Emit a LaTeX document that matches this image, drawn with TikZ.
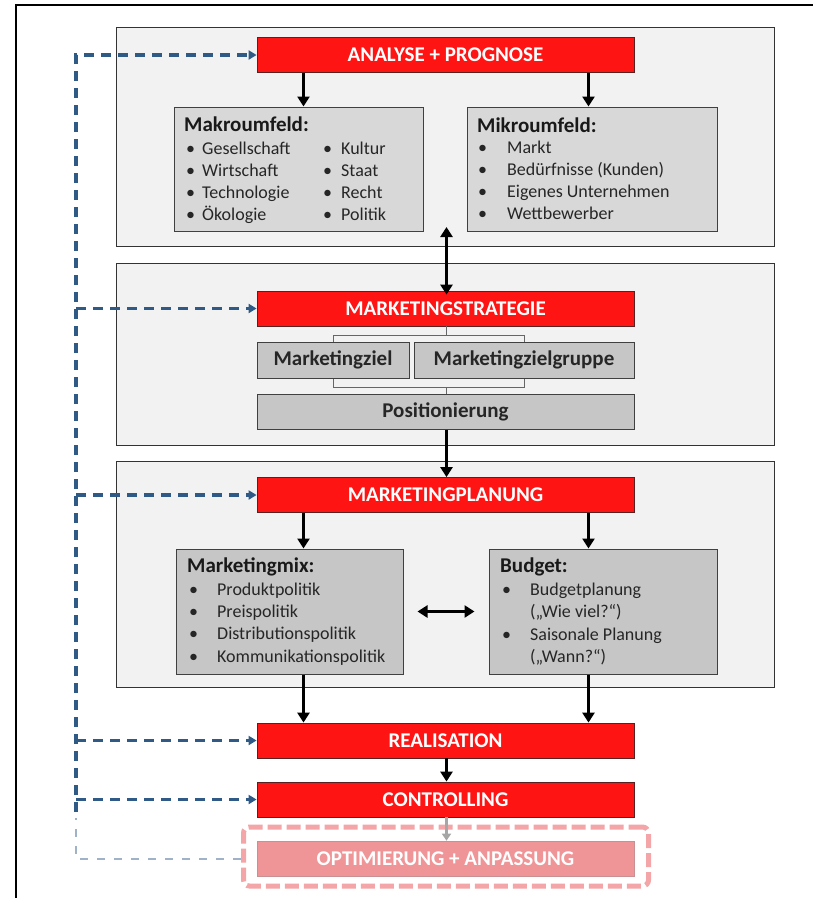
\documentclass[tikz,border=0pt]{standalone}
\usepackage{fontspec}
\setmainfont{Carlito}
\usetikzlibrary{arrows.meta}
\definecolor{panelfill}{HTML}{F2F2F2}
\definecolor{boxred}{HTML}{FF1414}
\definecolor{redline}{HTML}{5A1F1F}
\definecolor{greyA}{HTML}{D8D8D8}
\definecolor{greyB}{HTML}{C6C6C6}
\definecolor{fbblue}{HTML}{2F5A85}
\definecolor{fbfade}{HTML}{9FB2C8}
\definecolor{optfill}{HTML}{F09597}
\definecolor{optframe}{HTML}{F3A5A7}
\newcommand{\bitem}[1]{\makebox[#1][l]{•}}
\begin{document}
\begin{tikzpicture}[x=1pt,y=-1pt,
  panel/.style={draw=black!80, fill=panelfill, line width=1pt, inner sep=0pt},
  redbox/.style={draw=redline, fill=boxred, text=white, line width=0.8pt, inner sep=0pt,
    minimum width=377pt, minimum height=35pt, font=\fontsize{21}{24}\selectfont\bfseries},
  greybox/.style={draw=black!75, fill=greyA, line width=1pt, inner sep=0pt},
  subbox/.style={draw=black!75, fill=greyB, line width=1pt, inner sep=0pt, text=black!85,
    minimum height=36pt, font=\fontsize{21}{24}\selectfont\bfseries},
  head/.style={anchor=base west, inner sep=0pt, text=black!90, font=\fontsize{21}{24}\selectfont\bfseries},
  item/.style={anchor=base west, inner sep=0pt, text=black!85, font=\fontsize{18}{20}\selectfont},
  arr/.style={line width=3.2pt, -{Triangle[length=10pt,width=12pt]}},
  darr/.style={line width=3.2pt, {Triangle[length=10pt,width=12pt]}-{Triangle[length=10pt,width=12pt]}},
  fb/.style={draw=fbblue, line width=3.2pt, dash pattern=on 10pt off 7pt},
  fbarr/.style={fb, -{Triangle[length=8pt,width=9pt]}},
  fbf/.style={draw=fbfade, line width=2pt, dash pattern=on 8pt off 9pt},
  bracket/.style={draw=black!60, line width=1pt}
]
\useasboundingbox (0,0) rectangle (813,898);
% outer frame
\draw[line width=1.3pt] (16,898) -- (16,5) -- (813,5);

% column coordinates
\coordinate (colL) at (303.5,0);
\coordinate (colM) at (446.5,0);
\coordinate (colR) at (588.5,0);
\coordinate (fbx) at (76,0);

% panels
\node[panel, minimum width=658pt, minimum height=219pt] (panel1) at (445,136.5) {};
\node[panel, minimum width=658pt, minimum height=182pt] (panel2) at (445,354) {};
\node[panel, minimum width=658pt, minimum height=226pt] (panel3) at (445,574) {};

% red boxes
\node[redbox] (analyse) at (445.5,55) {ANALYSE + PROGNOSE};
\node[redbox] (strat) at (445.5,308.5) {MARKETINGSTRATEGIE};
\node[redbox] (plan) at (445.5,495) {MARKETINGPLANUNG};
\node[redbox] (real) at (445.5,740.5) {REALISATION};
\node[redbox] (contr) at (445.5,799.5) {CONTROLLING};

% optimierung (faded)
\node[draw=optframe, line width=5pt, dash pattern=on 14pt off 5pt, rounded corners=6pt,
  minimum width=405pt, minimum height=59pt, inner sep=0pt] (optfr) at (446,856.5) {};
\node[fill=optfill, draw=optframe!80!black!90, line width=0.6pt, minimum width=377pt, minimum height=35pt,
  inner sep=0pt, text=white, font=\fontsize{21}{24}\selectfont\bfseries] (optim) at (445.5,858.5) {OPTIMIERUNG + ANPASSUNG};

% Makro / Mikro
\node[greybox, minimum width=249pt, minimum height=124pt] (makro) at (298.5,169) {};
\node[greybox, minimum width=250pt, minimum height=124pt] (mikro) at (592,169) {};
\node[head] (makroH) at (184,131) {Makroumfeld:};
\foreach \t [count=\i] in {Gesellschaft, Wirtschaft, Technologie, Ökologie}
  \node[item] (mka\i) at (186,{132+22*\i}) {\bitem{16pt}\t};
\foreach \t [count=\i] in {Kultur, Staat, Recht, Politik}
  \node[item] (mkb\i) at (323,{132+22*\i}) {\bitem{18pt}\t};
\node[head] (mikroH) at (477,132) {Mikroumfeld:};
\foreach \t [count=\i] in {Markt, Bedürfnisse (Kunden), Eigenes Unternehmen, Wettbewerber}
  \node[item] (mi\i) at (478,{131+22*\i}) {\bitem{29pt}\t};

% strategy sub-boxes
\coordinate (brTL) at (333,335);
\coordinate (brBR) at (524,387);
\draw[bracket] (brTL) rectangle (brBR);
\draw[bracket] (strat.south -| colM) -- (colM |- brTL);
\node[subbox, minimum width=152pt] (ziel) at (333,360) {Marketingziel};
\node[subbox, minimum width=220pt] (zielg) at (524,360) {Marketingzielgruppe};
\node[subbox, minimum width=377pt, minimum height=35pt] (pos) at (445.5,411.5) {Positionierung};
\draw[bracket] (colM |- brBR) -- (pos.north -| colM);

% Marketingmix / Budget
\node[greybox, fill=greyB, minimum width=227pt, minimum height=125pt] (mix) at (289.5,611.5) {};
\node[greybox, fill=greyB, minimum width=228pt, minimum height=125pt] (budget) at (603,611.5) {};
\node[head] (mixH) at (187,572) {Marketingmix:};
\foreach \t [count=\i] in {Produktpolitik, Preispolitik, Distributionspolitik, Kommunikationspolitik}
  \node[item] (mx\i) at (189,{573+22.3*\i}) {\bitem{28pt}\t};
\node[head] (budH) at (500,572) {Budget:};
\node[item] (bu1) at (502,595) {\bitem{28pt}Budgetplanung};
\node[item] (bu2) at (530,617) {(„Wie viel?“)};
\node[item] (bu3) at (502,640) {\bitem{28pt}Saisonale Planung};
\node[item] (bu4) at (530,662) {(„Wann?“)};

% black arrows
\draw[arr] (analyse.south -| colL) -- (makro.north -| colL);
\draw[arr] (analyse.south -| colR) -- (mikro.north -| colR);
\coordinate (dtop) at (446.5,227);
\draw[darr] (dtop) -- ([yshift=-4pt]strat.north -| colM);
\draw[arr] (pos.south -| colM) -- (plan.north -| colM);
\draw[arr] (plan.south -| colL) -- (mix.north -| colL);
\draw[arr] (plan.south -| colR) -- (budget.north -| colR);
\draw[darr] ([xshift=14pt]mix.east) -- ([xshift=-14pt]budget.west);
\draw[arr] (mix.south -| colL) -- (real.north -| colL);
\draw[arr] (budget.south -| colR) -- (real.north -| colR);
\draw[arr] (real.south -| colM) -- (contr.north -| colM);
\draw[line width=2.4pt, draw=black!35, -{Triangle[length=7pt,width=9pt]}] (contr.south -| colM) -- (optim.north -| colM);

% feedback dashed lines
\coordinate (fbbot) at (76,812);
\draw[fbarr] (fbbot) -- (fbx |- analyse) -- (analyse.west);
\draw[fbarr] (fbx |- strat) -- (strat.west);
\draw[fbarr] (fbx |- plan) -- (plan.west);
\draw[fbarr] (fbx |- real) -- (real.west);
\draw[fbarr] (fbx |- contr) -- (contr.west);
\draw[fbf] (optfr.west |- optim) -- (fbx |- optim) -- (76,818);
\end{tikzpicture}
\end{document}
